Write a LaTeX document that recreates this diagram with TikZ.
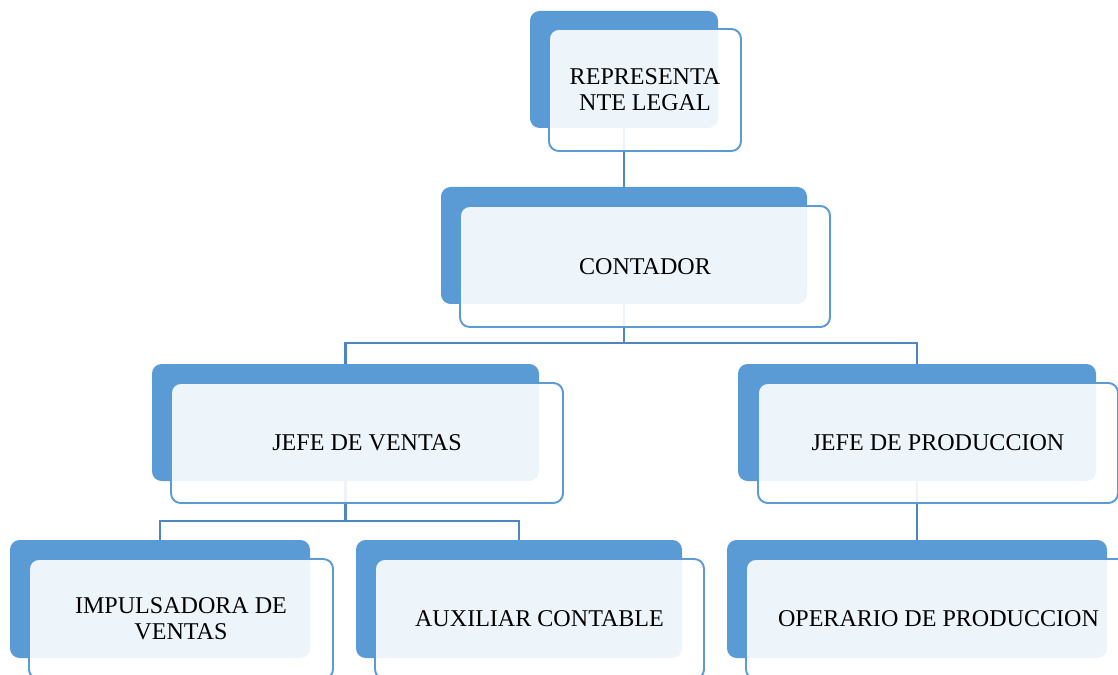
\documentclass[tikz,border=0pt]{standalone}
\usepackage{fontspec}
\setmainfont{Liberation Serif}
\usetikzlibrary{fit}
\definecolor{boxblue}{HTML}{5B9BD5}
\definecolor{lineblue}{HTML}{4E86C1}

\tikzset{
    back/.style={fill=boxblue, rounded corners=5.5pt, inner sep=0pt, outer sep=0pt},
    front/.style={draw=boxblue, line width=1.1pt, fill=white, fill opacity=0.9, rounded corners=5.5pt, inner sep=0pt, outer sep=0pt},
    lbl/.style={align=center, text=black, font=\fontsize{13.7}{14.8}\selectfont},
    link/.style={draw=lineblue, line width=1.3pt},
}

\begin{document}
\begin{tikzpicture}[x=0.02cm, y=-0.02cm]
        \useasboundingbox (0, 0) rectangle (1118, 675);
        \clip (0, 0) rectangle (1118, 675);

        % back boxes
        \node[back, fit={(530, 11) (718, 128)}] (rep-back) {};
        \node[back, fit={(441, 187) (807, 304)}] (cont-back) {};
        \node[back, fit={(152, 364) (539, 481)}] (jv-back) {};
        \node[back, fit={(738, 364) (1096, 481)}] (jp-back) {};
        \node[back, fit={(10, 540) (310, 658)}] (imp-back) {};
        \node[back, fit={(356, 540) (682, 658)}] (aux-back) {};
        \node[back, fit={(727, 540) (1107, 658)}] (op-back) {};

        % connectors
        \path (cont-back.south) ++(0, 39) coordinate (bus-cont);
        \path (jv-back.south) ++(0, 40) coordinate (bus-jv);
        \draw[link] (rep-back.south) -- (cont-back.north);
        \draw[link] (cont-back.south) -- (bus-cont);
        \draw[link] (jv-back.north) |- (bus-cont) -| (jp-back.north);
        \draw[link] (jv-back.south) -- (bus-jv);
        \draw[link] (imp-back.north) |- (bus-jv) -| (aux-back.north);
        \draw[link] (jp-back.south) -- (op-back.north);

        % front boxes
        \node[front, fit={(549, 29) (741, 151)}] (rep) {};
        \node[front, fit={(460, 206) (830, 327)}] (cont) {};
        \node[front, fit={(171, 383) (563, 503)}] (jv) {};
        \node[front, fit={(758, 383) (1118, 503)}] (jp) {};
        \node[front, fit={(29, 559) (333, 679)}] (imp) {};
        \node[front, fit={(375, 559) (704, 679)}] (aux) {};
        \node[front, fit={(746, 559) (1131, 679)}] (op) {};

        % texts
        \node[lbl] (rep-txt) at (rep.center) {REPRESENTA\\NTE LEGAL};
        \node[lbl] (cont-txt) at (cont.center) {CONTADOR};
        \node[lbl] (jv-txt) at (jv.center) {JEFE DE VENTAS};
        \node[lbl] (jp-txt) at (jp.center) {JEFE DE PRODUCCION};
        \node[lbl] (imp-txt) at (imp.center) {IMPULSADORA DE\\VENTAS};
        \node[lbl] (aux-txt) at (aux.center) {AUXILIAR CONTABLE};
        \node[lbl] (op-txt) at (op.center) {OPERARIO DE PRODUCCION};
\end{tikzpicture}
\end{document}
